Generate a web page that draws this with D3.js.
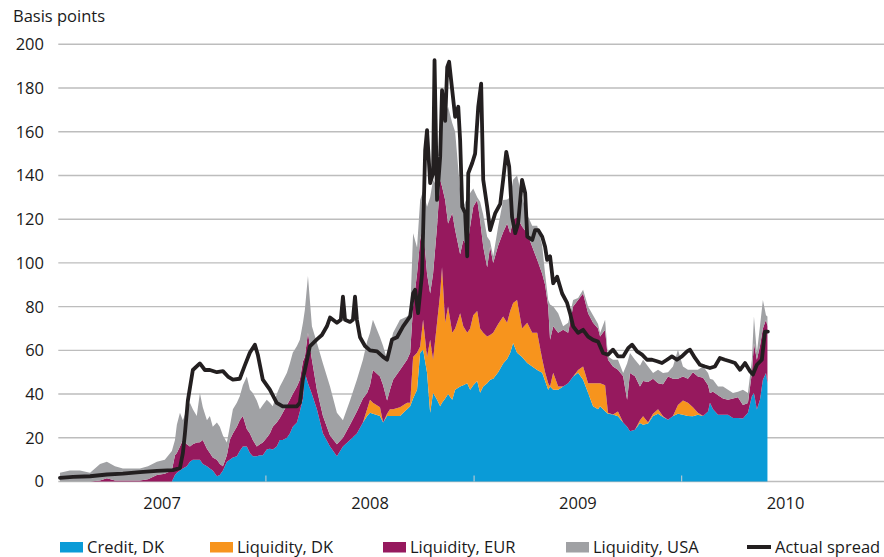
<!DOCTYPE html>
<html><head><meta charset="utf-8">
<script src="https://cdn.jsdelivr.net/npm/d3@7"></script>
<style>
html,body{margin:0;padding:0;background:#fff;}
svg{display:block;font-family:"Open Sans",sans-serif;}
</style></head>
<body>
<svg id="chart" width="884" height="557"></svg>
<script>
// ---- Data (decimal years) ----
const areaDates = [2007.008,2007.056,2007.104,2007.153,2007.201,2007.234,2007.273,2007.311,2007.355,2007.393,2007.432,2007.475,2007.513,
2007.547,2007.562,2007.571,2007.586,2007.600,2007.619,2007.634,2007.648,2007.667,2007.682,2007.696,2007.716,2007.730,2007.744,2007.764,2007.778,2007.793,2007.812,2007.826,2007.841,2007.860,2007.874,2007.889,2007.908,2007.923,2007.937,2007.956,2007.971,2007.985,2008.004,2008.019,2008.033,2008.052,2008.067,2008.081,2008.101,2008.115,2008.129,2008.149,2008.163,2008.178,
2008.187,2008.202,2008.221,2008.245,2008.274,2008.308,2008.341,2008.370,2008.404,2008.437,2008.466,2008.486,2008.500,2008.514,2008.548,2008.563,2008.582,2008.596,2008.611,2008.644,2008.678,2008.693,2008.707,2008.726,2008.741,2008.755,2008.774,2008.789,2008.803,2008.822,2008.837,2008.846,2008.861,2008.875,2008.895,2008.909,2008.933,2008.948,2008.967,2008.981,2008.996,2009.015,2009.029,2009.044,2009.063,2009.077,2009.092,2009.116,2009.140,2009.159,2009.174,2009.188,2009.207,2009.231,2009.256,2009.280,2009.304,2009.328,2009.342,2009.357,2009.366,2009.381,2009.405,2009.429,2009.453,2009.477,2009.501,2009.525,2009.549,2009.573,2009.597,2009.607,2009.631,2009.645,2009.669,2009.693,2009.718,2009.737,2009.751,2009.775,2009.799,2009.814,2009.838,2009.862,2009.886,2009.910,2009.934,2009.958,2009.982,2010.006,2010.030,2010.054,2010.078,2010.103,2010.127,2010.136,2010.151,2010.175,2010.199,2010.223,2010.247,2010.271,2010.295,2010.319,2010.338,2010.348,2010.362,2010.377,2010.391,2010.406,2010.413];
const creditDK = [0,0,0,0,0,0,0,0,0,0,0,0,0,
0,3,4,5,6,7,9,10,10,10,8,7,6,5,2.4,3,5,9,10,11,11.5,14,16,16,13,11.5,11.5,12,12,14.6,15,14.6,16,19,19,20,22,25,27,32,38,
49.7,45,40,33,22,16,11.5,16,19,22,27,30,31.5,31,30,27,30,30,30,30,33,34.4,38,42,58.9,60.3,49.7,31.5,40.6,37.4,34.4,36,38,40,37.4,42,43.5,44,45,42,44,46,40.6,43.5,45,46.6,47,50,54,56,58.9,63.4,58.9,57,54.2,52.6,51,49.7,46,42,43.5,42,42,43.5,45,48,49.7,46.6,40.6,34.4,33,34.4,32.1,31,30.6,29.8,27,25,23,23.7,26.8,26,26.5,30,31,29.5,28.3,30,31,30.5,30,29.8,30.5,30,32,36,33,30.5,30.5,30.5,29,29,28.8,31.4,39,40.5,32.9,37.4,46.6,49.6,45];
const liquidityDK = [0,0,0,0,0,0,0,0,0,0,0,0,0,
0,0,0,0,0,0,0,0,0,0,0,0,0,0,0,0,0,0,0,0,0,0,0,0,0,0,0,0,0,0,0,0,0,0,0,0,0,0,0,0,0,
0,0,0,0,0,0,0,0,0,0,0,3,5.9,5,4,0,1,3,3,4,3,1.6,19,16.9,2.9,13.7,7.3,33.3,15.1,35.2,51.6,62,34.6,40,30.6,28,33.5,27,23,28,32,32,29.4,24.5,21.3,20.4,21,22,21.5,16.6,19.1,18.3,24.1,13,18.4,15.4,17,6.3,4,3,0,7.7,1.5,0,0,0,1.3,6,4.4,10.6,12,10.6,11.9,0.4,0,2.2,0,0,0,0,1.2,3.8,0.5,1,2,0.3,0,0,4,6.5,6,4.2,0.9,0,0,0,0,0,0,0,0,0,0,0,0,0,0,0,0,0,0];
const liquidityEUR = [0,0,0,0,0.5,1.5,0.5,0.5,0.5,0.5,1,3,3.5,
5,9,9,11,13,10,7,7,7.8,8,11,8,7,6,7.6,5,2,3,9,11,13.5,14,14,8,9,7.5,4.5,5,5.8,5.4,7,10.4,11,10,12.5,15,15.4,15,16.5,14.5,17,
7.3,23,15.7,9,8,5,5.5,4,7,10,11,7.5,6.6,15,14,17,6,9,13.5,17,19.7,22.9,23,36.1,48.7,42.6,38,21.2,39.3,44,52,37,56.2,38,54.8,45,27,39.5,39.4,46.6,49.7,50.8,49.6,39.4,31.7,40.4,32,36,38.5,45.4,35.6,37.9,38,46.6,41,39.4,33.4,39,40,35,21.3,21.3,24.5,25.9,23,32,32,33.4,32,27.6,25,21.3,25.4,24.3,22,19.1,21.1,12.4,26.6,24.4,15.5,16.2,18.5,16,12,14.7,19.7,17,12,11,11,16,16.6,17.5,12,4.5,8,9,7.5,6.9,9,9.5,6.2,4.5,10.6,22.8,22.8,24.6,23.4,24.4,26];
const liquidityUSA = [4,5,5,4,7.5,7.5,6.5,5.5,5.5,5.5,6,6,6.5,
9,7,13,15.5,9,16,20,16,12.2,22.5,15,13,17,14,17,17,14,5.8,6,11,11,11,14,24,20,21.5,21,16,17.2,17.4,14,9.4,13,14.5,14.5,14.7,16.6,18.9,18.5,18.3,17.6,
21.5,26,15.3,21.5,24,22.5,14.5,8,11,14.5,17.7,23.5,24,23,18,18,18.7,20,21.5,23,19.8,18.1,33.6,12,18.3,16.4,30.7,44,43,18.2,12,29,39.2,53.4,41.2,45,29,15.2,22.6,15.4,8.3,1.2,8.4,14.6,14,2.6,3,8.6,14.8,11,16.4,18.4,19,13.4,8.4,9.6,15.6,13,5,3,16.2,9,9,1.6,4.6,3,1,1.7,3,3.4,2,1.6,4.6,1.5,3.1,4.6,1.5,16.6,9.2,7.6,9.5,9.7,7.1,2.6,6.1,5.1,2,5.6,13.3,4.6,4.1,1.1,3.1,5.1,5.6,6.5,5.6,4,5.5,4.6,2.5,2.5,7,4.6,6.1,12.2,3.1,9,13,2,4.5];

const spreadDates = [2007.008,2007.071,2007.153,2007.234,2007.311,2007.393,2007.475,2007.552,
2007.586,2007.600,2007.610,2007.624,2007.648,2007.682,2007.706,2007.730,2007.764,2007.793,2007.817,2007.841,2007.874,2007.898,2007.923,2007.947,2007.961,2007.985,2008.019,2008.052,2008.081,2008.115,2008.149,2008.163,2008.178,2008.187,2008.211,
2008.245,2008.269,2008.293,2008.308,2008.341,2008.360,2008.370,2008.380,2008.404,2008.418,2008.428,2008.437,2008.452,2008.476,2008.500,2008.534,2008.563,2008.582,2008.606,2008.630,2008.659,2008.693,2008.707,2008.717,2008.731,2008.750,2008.765,2008.774,2008.789,2008.803,2008.810,2008.822,2008.837,2008.846,2008.861,2008.871,2008.880,2008.895,2008.909,2008.924,2008.933,2008.943,2008.957,2008.967,2008.972,2008.991,2009.005,2009.020,2009.034,2009.044,2009.063,2009.077,2009.102,2009.126,2009.140,2009.155,2009.169,2009.183,2009.198,2009.212,2009.231,2009.246,2009.256,2009.280,2009.294,2009.309,2009.328,2009.342,2009.352,2009.366,2009.381,2009.400,2009.424,2009.448,2009.462,2009.477,2009.501,2009.525,2009.549,2009.573,2009.597,2009.621,2009.645,2009.669,2009.693,2009.718,2009.742,2009.761,2009.785,2009.809,2009.833,2009.857,2009.881,2009.905,2009.929,2009.953,2009.977,2010.001,2010.026,2010.040,2010.064,2010.088,2010.112,2010.136,2010.160,2010.184,2010.208,2010.232,2010.257,2010.281,2010.305,2010.329,2010.343,2010.362,2010.386,2010.401,2010.415];
const actualSpread = [1.7,2.1,2.4,3.2,3.6,4.3,4.9,5.2,
6.2,13,22,37,51,54,51,51,50,50.5,48,46.6,47,53,59,62.6,58,46.6,42,36,34.4,34.4,34.4,36,47,51,61.8,
65,67,71,75,72.6,74,84.6,74,73,74,84.6,74,66,62,60,59.5,57,55.7,65,66,71,75.5,86,87.7,77,95,151.6,160.7,136.5,141,192.7,128.8,148.5,179,165,189.6,192,179,166.8,171.4,156,125.7,122.8,103,141,145.7,150,171.4,182,138,125.7,115,122.8,127,138,150.8,144,121,113.6,118,138,132,112,110.5,115,115,112,107.4,101.4,103,90.7,93.7,86,81.7,77,71,68,69.4,66.3,64.8,64,58.8,58,60.3,57.2,57.2,61,62.6,59.5,58,55.7,55.7,55,54.2,55.7,57.2,55.7,57.2,59.5,60.3,56.5,53.4,52.6,51.9,52.6,56.5,55.7,55,54.2,51.1,54.2,50.4,48.9,53.4,55.7,68.6,68.6];

const seriesNames = ["Credit, DK","Liquidity, DK","Liquidity, EUR","Liquidity, USA"];
const seriesColors = ["#0a9bd7","#f7941d","#96195e","#a0a1a4"];
const lineName = "Actual spread";
const yTicks = [0,20,40,60,80,100,120,140,160,180,200];
const yearLabels = [2007,2008,2009,2010];
const axisTitle = "Basis points";

// ---- helpers ----
function dy(v){
  const y = Math.floor(v);
  const a = Date.UTC(y,0,1), b = Date.UTC(y+1,0,1);
  return new Date(a + (v - y) * (b - a));
}

const svg = d3.select("#chart");
const x = d3.scaleUtc().domain([new Date(Date.UTC(2007,0,1)), new Date(Date.UTC(2010,0,1))]).range([58.3, 681.7]);
const y = d3.scaleLinear().domain([0,200]).range([481.5, 44.3]);
const xRight = 884;
const textColor = "#1a1a1a";

// gridlines
svg.append("g").selectAll("line").data(yTicks).join("line")
  .attr("x1", 58.3).attr("x2", xRight)
  .attr("y1", d => y(d)).attr("y2", d => y(d))
  .attr("stroke", "#bdbdbd").attr("stroke-width", 1.4);

// y labels
svg.append("g").selectAll("text").data(yTicks).join("text")
  .attr("x", 44).attr("y", d => y(d)).attr("dy", "0.36em")
  .attr("text-anchor", "end").attr("font-size", 16.5).attr("fill", textColor)
  .text(d => d);

svg.append("text").attr("x", 13).attr("y", 22).attr("font-size", 16.5).attr("fill", textColor).text(axisTitle);

// stacked areas
const keys = ["c","dk","eur","usa"];
const table = areaDates.map((d,i) => ({date: dy(d), c: creditDK[i], dk: liquidityDK[i], eur: liquidityEUR[i], usa: liquidityUSA[i]}));
const stacked = d3.stack().keys(keys)(table);
const area = d3.area().x(d => x(d.data.date)).y0(d => y(d[0])).y1(d => y(d[1]));
svg.append("g").selectAll("path").data(stacked).join("path")
  .attr("d", area).attr("fill", (d,i) => seriesColors[i]);

// year ticks (small marks at year boundaries)
const tickYears = [2008,2009,2010];
svg.append("g").selectAll("line").data(tickYears).join("line")
  .attr("x1", d => x(dy(d))).attr("x2", d => x(dy(d)))
  .attr("y1", y(0)).attr("y2", y(0) - 6)
  .attr("stroke", "#d0d0d0").attr("stroke-width", 1);

// year labels centered in each year
svg.append("g").selectAll("text").data(yearLabels).join("text")
  .attr("x", d => x(dy(d + 0.5))).attr("y", 509)
  .attr("text-anchor", "middle").attr("font-size", 16.5).attr("fill", textColor)
  .text(d => d);

// actual spread line
const line = d3.line().x((d,i) => x(dy(spreadDates[i]))).y(d => y(d));
svg.append("path").datum(actualSpread).attr("d", line)
  .attr("fill", "none").attr("stroke", "#231f20").attr("stroke-width", 3.8)
  .attr("stroke-linejoin", "round").attr("stroke-linecap", "round");

// legend
const legendX = [60, 210, 383, 566];
const lg = svg.append("g");
seriesNames.forEach((n,i) => {
  lg.append("rect").attr("x", legendX[i]).attr("y", 542).attr("width", 23).attr("height", 10.5).attr("fill", seriesColors[i]);
  lg.append("text").attr("x", legendX[i] + 27).attr("y", 552.5).attr("font-size", 16.5).attr("fill", textColor).text(n);
});
lg.append("line").attr("x1", 747).attr("x2", 771).attr("y1", 547).attr("y2", 547)
  .attr("stroke", "#231f20").attr("stroke-width", 4);
lg.append("text").attr("x", 775).attr("y", 552.5).attr("font-size", 16.5).attr("fill", textColor).text(lineName);
</script>
</body></html>
